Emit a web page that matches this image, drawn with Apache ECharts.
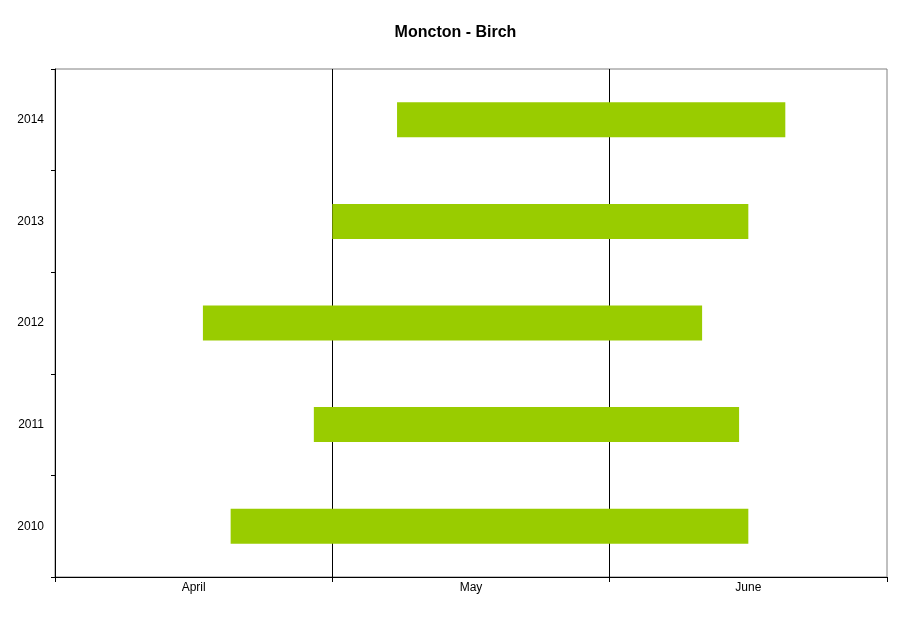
<!DOCTYPE html>
<html>
<head>
<meta charset="utf-8">
<script src="https://cdn.jsdelivr.net/npm/echarts@6/dist/echarts.min.js"></script>
<style>html,body{margin:0;padding:0;background:#fff}#c{width:911px;height:623px}</style>
</head>
<body>
<div id="c"></div>
<script>
// Days counted from April 1 (0 = Apr 1, 30 = May 1, 60 = Jun 1, 90 = Jul 1)
var years = ['2010', '2011', '2012', '2013', '2014'];
var startDay = [19, 28, 16, 30, 37];
var endDay = [75, 74, 70, 75, 79];
var monthLabels = ['April', 'May', 'June'];
var monthCenters = [15, 45, 75];

var duration = endDay.map(function (e, i) { return e - startDay[i]; });

var chart = echarts.init(document.getElementById('c'));
chart.setOption({
  animation: false,
  backgroundColor: '#fff',
  title: {
    text: 'Moncton - Birch',
    left: 'center',
    top: 20,
    textStyle: { fontFamily: 'Liberation Sans, Arial, sans-serif', fontSize: 16, fontWeight: 'bold', color: '#000' }
  },
  grid: {
    left: 55, right: 24, top: 69, bottom: 46,
    show: true, borderColor: '#808080', borderWidth: 1, backgroundColor: 'transparent'
  },
  xAxis: [
    {
      type: 'value', min: 0, max: 90, interval: 30,
      axisLine: { show: true, lineStyle: { color: '#000', width: 1 } },
      axisTick: { show: true, length: 5, lineStyle: { color: '#000' } },
      axisLabel: { show: false },
      splitLine: { show: true, showMinLine: false, showMaxLine: false, lineStyle: { color: '#000', width: 1 } }
    },
    {
      type: 'value', min: 0, max: 90, interval: 15, position: 'bottom',
      axisLine: { show: false }, axisTick: { show: false }, splitLine: { show: false },
      axisLabel: {
        show: true, margin: 5, color: '#000', fontSize: 12,
        fontFamily: 'Liberation Sans, Arial, sans-serif',
        showMinLabel: false, showMaxLabel: false,
        formatter: function (v) {
          var k = monthCenters.indexOf(v);
          return k >= 0 ? monthLabels[k] : '';
        }
      }
    }
  ],
  yAxis: {
    type: 'category', data: years, boundaryGap: true,
    axisLine: { show: true, lineStyle: { color: '#000', width: 1 } },
    axisTick: { show: true, length: 4, alignWithLabel: false, lineStyle: { color: '#000' } },
    axisLabel: { color: '#000', fontSize: 12, margin: 11, padding: [4, 0, 0, 0], fontFamily: 'Liberation Sans, Arial, sans-serif' },
    splitLine: { show: false }
  },
  series: [
    {
      type: 'bar', stack: 'g', xAxisIndex: 0, data: startDay, barWidth: 35,
      itemStyle: { color: 'transparent' }, silent: true
    },
    {
      type: 'bar', stack: 'g', xAxisIndex: 0, data: duration, barWidth: 35,
      itemStyle: { color: '#99cc00' }
    }
  ]
});
</script>
</body>
</html>
